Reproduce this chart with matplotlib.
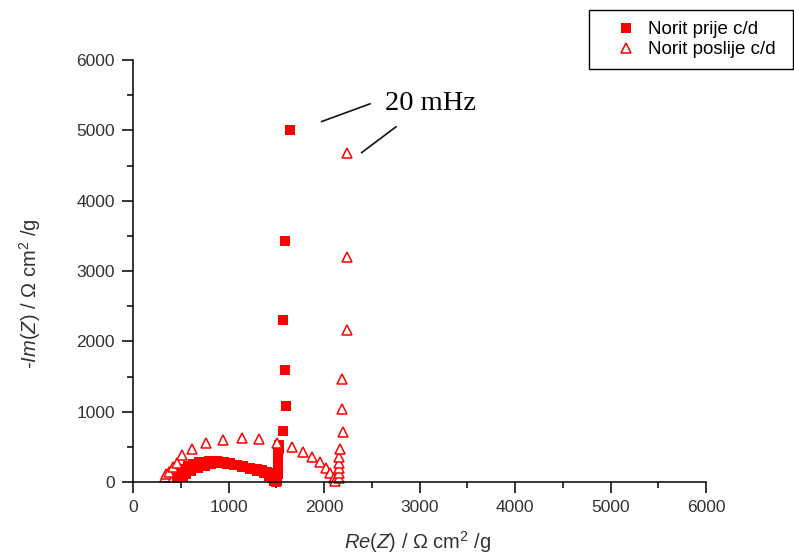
import matplotlib
matplotlib.use("Agg")
import matplotlib.pyplot as plt
from matplotlib.ticker import MultipleLocator
from matplotlib.patches import Rectangle

plt.rcParams['font.family'] = ['Liberation Sans', 'DejaVu Sans']
plt.rcParams['mathtext.fontset'] = 'custom'
plt.rcParams['mathtext.rm'] = 'Liberation Sans'
plt.rcParams['mathtext.it'] = 'Liberation Sans:italic'

# Norit prije c/d (filled squares)
prije_re = [460, 480, 505, 540, 580, 631, 690, 736, 800, 876, 950, 1016, 1085,
            1155, 1225, 1295, 1350, 1400, 1430, 1452, 1470, 1487, 1500,
            520, 560, 610, 680, 750, 820, 900, 980, 1060, 1140, 1220, 1300,
            1370, 1420, 1455, 1475,
            1512, 1513, 1514, 1515, 1516, 1518, 1520, 1523, 1527, 1532,
            1573, 1607, 1595, 1573, 1595, 1645]
prije_im = [60, 110, 150, 190, 225, 256, 278, 289, 297, 299, 285, 266, 248,
            228, 205, 180, 165, 147, 125, 100, 65, 28, 5,
            70, 115, 160, 200, 225, 258, 268, 258, 235, 210, 185, 160,
            130, 90, 50, 20,
            20, 70, 120, 175, 230, 290, 350, 410, 470, 525,
            720, 1085, 1595, 2305, 3420, 5000]

# Norit poslije c/d (open triangles)
poslije_re = [335, 350, 380, 422, 464, 510, 614, 764, 946, 1138, 1322, 1504,
              1661, 1776, 1878, 1958, 2020, 2065, 2100, 2120, 2160, 2160, 2160,
              2160, 2162, 2168, 2195, 2190, 2191, 2246, 2243, 2243]
poslije_im = [75, 110, 147, 218, 275, 384, 465, 550, 597, 621, 607, 559,
              502, 431, 355, 280, 205, 130, 60, 20, 53, 124, 195,
              266, 360, 465, 707, 1045, 1461, 2162, 3205, 4675]

series_labels = ['Norit prije c/d', 'Norit poslije c/d']
ticks = [0, 1000, 2000, 3000, 4000, 5000, 6000]

W, H = 794, 556
fig = plt.figure(figsize=(W / 100, H / 100), dpi=100)
ax = fig.add_axes([133 / W, 1 - 482 / H, (706 - 133) / W, (482 - 60) / H])

red = '#ff0000'
h1, = ax.plot(prije_re, prije_im, linestyle='none', marker='s', markersize=7.2,
              color=red, markeredgewidth=0, label=series_labels[0], clip_on=False)
h2, = ax.plot(poslije_re, poslije_im, linestyle='none', marker='^', markersize=7.5,
              markerfacecolor='white', markeredgecolor=red, markeredgewidth=1.1,
              label=series_labels[1], clip_on=False)

ax.set_xlim(0, 6000)
ax.set_ylim(0, 6000)
ax.set_xticks(ticks)
ax.set_yticks(ticks)
ax.xaxis.set_minor_locator(MultipleLocator(500))
ax.yaxis.set_minor_locator(MultipleLocator(500))
for s in ['top', 'right']:
    ax.spines[s].set_visible(False)
for s in ['left', 'bottom']:
    ax.spines[s].set_linewidth(1.1)
ax.tick_params(which='major', direction='out', length=8, width=1.1, pad=5,
               labelsize=12.5, labelcolor='#333333')
ax.tick_params(which='minor', direction='out', length=4, width=1.1)

fig.text(418 / W, 1 - 542 / H, r'$\mathit{Re(Z)}$ / Ω cm$^2$ /g', fontsize=14.5,
         color='#333333', ha='center', va='center')
fig.text(30 / W, 1 - 294 / H, r'-$\mathit{Im(Z)}$ / Ω cm$^2$ /g', fontsize=14.5,
         color='#333333', ha='center', va='center', rotation=90)

# annotation
ax.text(2639, 5282, '20 mHz', fontsize=20.5, family='Liberation Serif', color='black',
        ha='left', va='baseline')
ax.plot([1976, 2482], [5125, 5377], color='#111111', linewidth=1.2, clip_on=False)
ax.plot([2395, 2754], [4684, 5050], color='#111111', linewidth=1.2, clip_on=False)

# legend
fs = 13.5
leg = fig.legend(handles=[h1, h2], loc='upper left',
                 bbox_to_anchor=(615 / W, 1 - 21 / H), fontsize=fs,
                 frameon=False, handlelength=1.2, handletextpad=0.56,
                 borderpad=0, labelspacing=0.16, borderaxespad=0)
fig.patches.append(Rectangle((589 / W, 1 - 69 / H), (793 - 589) / W, (69 - 10) / H,
                             transform=fig.transFigure, fill=False,
                             edgecolor='black', linewidth=1.0))

fig.savefig('out.png', dpi=100)
